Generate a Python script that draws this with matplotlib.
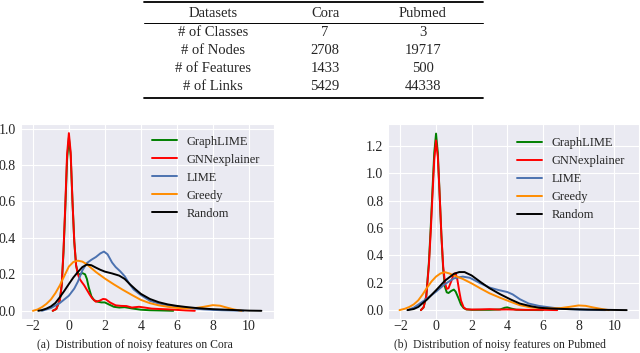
import matplotlib
matplotlib.use("Agg")
import matplotlib.pyplot as plt
from matplotlib.lines import Line2D
import seaborn as sns

# table values
row_names = ["# of Classes", "# of Nodes", "# of Features", "# of Links"]
cora_stats = [7, 2708, 1433, 5429]
pubmed_stats = [3, 19717, 500, 44338]

methods = ["GraphLIME", "GNNexplainer", "LIME", "Greedy", "Random"]
colors = ["green", "red", "#4c72b0", "darkorange", "black"]

# density curves
cora_graphlime_x = [-0.9, -0.7, -0.5, -0.4, -0.3, -0.2, -0.1, 0.0, 0.1, 0.2, 0.3, 0.4, 0.5, 0.6, 0.75, 0.9, 1.0,
                    1.1, 1.25, 1.4, 1.6, 1.8, 2.0, 2.2, 2.5, 2.8, 3.1, 3.5, 4.0, 4.5, 5.0, 5.8]
cora_graphlime_y = [0.0, 0.01, 0.06, 0.14, 0.32, 0.56, 0.83, 0.95, 0.85, 0.6, 0.38, 0.25, 0.205, 0.2, 0.207, 0.2,
                    0.175, 0.13, 0.08, 0.058, 0.05, 0.046, 0.046, 0.036, 0.022, 0.018, 0.02, 0.013, 0.006, 0.003,
                    0.002, 0.0]
cora_gnnexp_x = [-0.9, -0.7, -0.5, -0.4, -0.3, -0.2, -0.1, 0.0, 0.1, 0.2, 0.3, 0.4, 0.5, 0.6, 0.7, 0.85, 1.0, 1.15,
                 1.3, 1.5, 1.7, 1.9, 2.05, 2.3, 2.6, 2.9, 3.2, 3.5, 3.9, 4.2, 4.6, 5.0, 5.5, 6.0, 6.5, 7.0]
cora_gnnexp_y = [0.0, 0.01, 0.06, 0.14, 0.33, 0.58, 0.86, 0.975, 0.87, 0.6, 0.38, 0.25, 0.2, 0.175, 0.16, 0.14,
                 0.115, 0.09, 0.068, 0.05, 0.055, 0.065, 0.063, 0.045, 0.03, 0.027, 0.026, 0.018, 0.022, 0.018,
                 0.012, 0.01, 0.008, 0.005, 0.002, 0.0]
cora_lime_x = [-1.5, -1.0, -0.5, 0.0, 0.3, 0.5, 0.75, 1.0, 1.25, 1.5, 1.75, 1.95, 2.15, 2.4, 2.6, 2.85, 3.1, 3.35,
               3.6, 3.95, 4.5, 5.0, 5.5, 6.0, 6.5, 7.0, 7.5, 8.0, 8.5, 9.0, 9.7]
cora_lime_y = [0.0, 0.015, 0.043, 0.083, 0.122, 0.16, 0.222, 0.262, 0.28, 0.295, 0.315, 0.325, 0.31, 0.265, 0.24,
               0.217, 0.19, 0.15, 0.117, 0.09, 0.055, 0.04, 0.03, 0.024, 0.017, 0.012, 0.008, 0.005, 0.003,
               0.002, 0.0]
cora_greedy_x = [-2.0, -1.75, -1.5, -1.25, -1.0, -0.75, -0.5, -0.25, 0.0, 0.25, 0.5, 0.75, 1.0, 1.5, 2.0, 2.5, 3.0,
                 3.5, 4.0, 4.5, 5.0, 5.5, 6.0, 6.5, 7.0, 7.5, 8.0, 8.4, 8.8, 9.2, 9.6]
cora_greedy_y = [0.0, 0.007, 0.02, 0.038, 0.062, 0.097, 0.14, 0.192, 0.243, 0.268, 0.275, 0.27, 0.255, 0.213,
                 0.177, 0.145, 0.115, 0.087, 0.06, 0.042, 0.03, 0.022, 0.016, 0.013, 0.015, 0.022, 0.031, 0.028,
                 0.017, 0.007, 0.0]
cora_random_x = [-1.7, -1.5, -1.25, -1.0, -0.75, -0.5, -0.25, 0.0, 0.25, 0.5, 0.75, 1.0, 1.25, 1.5, 1.75, 2.0, 2.4,
                 2.8, 3.1, 3.4, 3.7, 4.0, 4.5, 5.0, 5.5, 6.0, 6.5, 7.0, 7.5, 8.0, 8.5, 9.0, 9.5, 10.0, 10.7]
cora_random_y = [0.0, 0.004, 0.012, 0.024, 0.043, 0.075, 0.11, 0.147, 0.183, 0.213, 0.24, 0.254, 0.25, 0.237,
                 0.225, 0.215, 0.205, 0.193, 0.175, 0.145, 0.118, 0.093, 0.065, 0.047, 0.035, 0.027, 0.021, 0.016,
                 0.012, 0.009, 0.007, 0.005, 0.003, 0.001, 0.0]

# density curves
pub_graphlime_x = [-0.85, -0.7, -0.55, -0.4, -0.3, -0.2, -0.1, 0.0, 0.1, 0.2, 0.3, 0.4, 0.5, 0.6, 0.7, 0.85, 1.0,
                   1.1, 1.25, 1.4, 1.55, 1.7, 2.0, 3.0, 3.6, 3.85, 4.0, 4.2, 4.5, 5.0, 6.0]
pub_graphlime_y = [0.0, 0.02, 0.1, 0.35, 0.6, 0.88, 1.15, 1.29, 1.15, 0.85, 0.55, 0.3, 0.17, 0.13, 0.125, 0.14,
                   0.15, 0.135, 0.09, 0.04, 0.015, 0.005, 0.002, 0.002, 0.005, 0.017, 0.02, 0.012, 0.003, 0.001,
                   0.0]
pub_gnnexp_x = [-0.85, -0.7, -0.55, -0.4, -0.3, -0.2, -0.1, 0.0, 0.1, 0.2, 0.3, 0.4, 0.5, 0.6, 0.7, 0.85, 1.0, 1.1,
                1.2, 1.3, 1.4, 1.55, 1.7, 2.0, 2.5, 3.0, 3.5, 4.0, 4.5, 5.0, 6.0, 6.8]
pub_gnnexp_y = [0.0, 0.02, 0.1, 0.33, 0.57, 0.84, 1.1, 1.24, 1.12, 0.85, 0.55, 0.32, 0.2, 0.155, 0.16, 0.21, 0.265,
                0.27, 0.22, 0.14, 0.07, 0.02, 0.006, 0.004, 0.005, 0.007, 0.004, 0.005, 0.003, 0.002, 0.002, 0.0]
pub_lime_x = [-1.6, -1.25, -1.0, -0.5, 0.0, 0.5, 1.0, 1.5, 1.9, 2.5, 3.0, 3.5, 4.0, 4.3, 4.7, 5.2, 5.8, 6.5, 7.0,
              7.5, 8.0, 8.5, 9.5]
pub_lime_y = [0.0, 0.018, 0.04, 0.085, 0.135, 0.19, 0.232, 0.245, 0.236, 0.195, 0.165, 0.147, 0.132, 0.115, 0.08,
              0.048, 0.03, 0.018, 0.01, 0.007, 0.004, 0.002, 0.0]
pub_greedy_x = [-2.05, -1.75, -1.5, -1.25, -1.0, -0.75, -0.5, -0.25, 0.0, 0.25, 0.5, 0.75, 1.0, 1.5, 2.0, 2.5, 3.0,
                3.6, 4.2, 4.7, 5.3, 5.8, 6.5, 7.0, 7.5, 8.0, 8.4, 8.8, 9.3, 9.7]
pub_greedy_y = [0.0, 0.01, 0.023, 0.042, 0.071, 0.115, 0.165, 0.21, 0.245, 0.268, 0.277, 0.268, 0.253, 0.228,
                0.195, 0.158, 0.123, 0.09, 0.06, 0.036, 0.02, 0.015, 0.012, 0.015, 0.024, 0.034, 0.031, 0.02,
                0.008, 0.0]
pub_random_x = [-1.6, -1.25, -1.0, -0.5, 0.0, 0.5, 1.0, 1.3, 1.6, 2.0, 2.5, 3.0, 3.6, 4.2, 4.7, 5.3, 5.8, 6.5, 7.5,
                8.5, 9.5, 10.7]
pub_random_y = [0.0, 0.008, 0.023, 0.078, 0.145, 0.215, 0.265, 0.278, 0.278, 0.253, 0.205, 0.16, 0.116, 0.077,
                0.048, 0.029, 0.017, 0.011, 0.007, 0.004, 0.002, 0.0]

cora_curves = [(cora_graphlime_x, cora_graphlime_y), (cora_gnnexp_x, cora_gnnexp_y), (cora_lime_x, cora_lime_y),
               (cora_greedy_x, cora_greedy_y), (cora_random_x, cora_random_y)]
pub_curves = [(pub_graphlime_x, pub_graphlime_y), (pub_gnnexp_x, pub_gnnexp_y), (pub_lime_x, pub_lime_y),
              (pub_greedy_x, pub_greedy_y), (pub_random_x, pub_random_y)]

xticks = [-2, 0, 2, 4, 6, 8, 10]
cora_yticks = [0.0, 0.2, 0.4, 0.6, 0.8, 1.0]
pub_yticks = [0.0, 0.2, 0.4, 0.6, 0.8, 1.0, 1.2]

sns.set_style("darkgrid")
plt.rcParams['font.family'] = ['Liberation Serif', 'DejaVu Serif']

fig = plt.figure(figsize=(6.4, 3.53), dpi=100)


def draw_panel(ax, curves, yticks, ylim, legend_anchor):
    for (xs, ys), name, c in zip(curves, methods, colors):
        ax.plot(xs, ys, color=c, lw=1.4, label=name, solid_joinstyle='round')
    ax.set_xlim(-2.68, 11.4)
    ax.set_ylim(*ylim)
    ax.set_xticks(xticks)
    ax.set_yticks(yticks)
    ax.set_yticklabels([f"{v:.1f}" for v in yticks])
    ax.tick_params(axis='y', labelsize=10, length=0, pad=3.5)
    ax.tick_params(axis='x', labelsize=10, length=0, pad=0.5)
    ax.legend(loc='upper left', bbox_to_anchor=legend_anchor, frameon=False, fontsize=9,
              borderpad=0, borderaxespad=0, labelspacing=0.48, handlelength=2.0, handletextpad=0.8)


ax1 = fig.add_axes([0.0323, 0.0963, 0.3958, 0.5524])
draw_panel(ax1, cora_curves, cora_yticks, (-0.045, 1.025), (0.518, 0.94))
ax2 = fig.add_axes([0.6067, 0.0963, 0.392, 0.5524])
draw_panel(ax2, pub_curves, pub_yticks, (-0.065, 1.36), (0.513, 0.934))

fig.text(135 / 640, 1 - 345 / 353, "(a)  Distribution of noisy features on Cora", ha='center', va='center',
         fontsize=8.4)
fig.text(500 / 640, 1 - 345 / 353, "(b)  Distribution of noisy features on Pubmed", ha='center', va='center',
         fontsize=8.4)

# table on top
x0, x1 = 144 / 640, 483 / 640
fig.add_artist(Line2D([x0, x1], [1 - 2 / 353, 1 - 2 / 353], color='black', lw=1.3))
fig.add_artist(Line2D([x0, x1], [1 - 23 / 353, 1 - 23 / 353], color='black', lw=0.7))
fig.add_artist(Line2D([x0, x1], [1 - 98 / 353, 1 - 98 / 353], color='black', lw=1.3))
col_x = [213 / 640, 325 / 640, 423 / 640]
row_y = [33, 51, 68, 86]
header = ["Datasets", "Cora", "Pubmed"]
for cx, h in zip(col_x, header):
    fig.text(cx, 1 - 13.5 / 353, h, ha='center', va='center', fontsize=10.5)
for ry, name, c, p in zip(row_y, row_names, cora_stats, pubmed_stats):
    fig.text(col_x[0], 1 - ry / 353, name, ha='center', va='center', fontsize=10.5)
    fig.text(col_x[1], 1 - ry / 353, str(c), ha='center', va='center', fontsize=10.5)
    fig.text(col_x[2], 1 - ry / 353, str(p), ha='center', va='center', fontsize=10.5)

fig.savefig("out.png", dpi=100)
